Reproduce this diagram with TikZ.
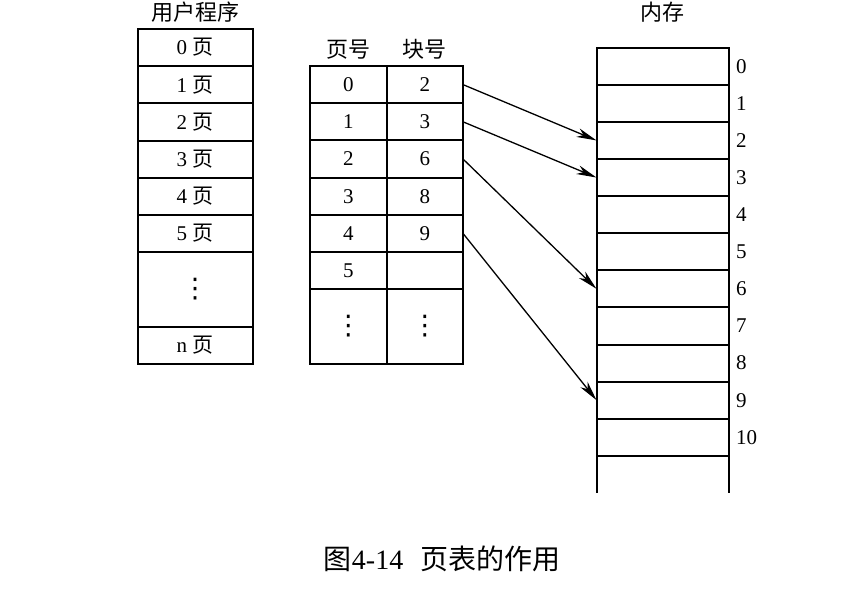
\documentclass[tikz,border=0pt]{standalone}
\usepackage{fontspec}
\setmainfont{Liberation Serif}
\newfontfamily\cjk{Noto Sans CJK SC}
\newfontfamily\symfont{DejaVu Sans}
\usetikzlibrary{positioning, arrows.meta}
\newcommand{\zh}[1]{{\cjk #1}}
\newcommand{\vdts}{{\fontsize{27}{27}\selectfont\symfont ⋮}}

\begin{document}
\begin{tikzpicture}[
    x=1pt, y=-1pt,
    cell/.style={rectangle, draw, line width=2pt, inner sep=0pt, outer sep=0pt,
        minimum height=37.2pt, font=\fontsize{21}{25}\selectfont},
    prog/.style={cell, minimum width=115pt},
    tab/.style={cell, minimum width=76.5pt},
    mem/.style={cell, minimum width=132.5pt, minimum height=37.1pt},
    head/.style={inner sep=0pt, font=\fontsize{22}{26}\selectfont\cjk},
    arrow/.style={-{Stealth[length=20pt, width=9pt, inset=6pt]}, line width=1.3pt},
    every label/.style={font=\fontsize{21}{25}\selectfont, inner sep=0pt},
    label distance=7pt,
    node distance=0pt
]
\useasboundingbox (0,0) rectangle (866,589);

% 用户程序
\node[prog, anchor=north west] (u0) at (137.5,29) {0 \zh{页}};
\node[prog, below=of u0] (u1) {1 \zh{页}};
\node[prog, below=of u1] (u2) {2 \zh{页}};
\node[prog, below=of u2] (u3) {3 \zh{页}};
\node[prog, below=of u3] (u4) {4 \zh{页}};
\node[prog, below=of u4] (u5) {5 \zh{页}};
\node[prog, below=of u5, minimum height=74.4pt] (udots) {\vdts};
\node[prog, below=of udots] (un) {n \zh{页}};
\node[head, above=6pt of u0] (uhead) {用户程序};

% 页表
\node[tab, anchor=north west] (p0) at (310,66) {0};
\node[tab, right=of p0] (b0) {2};
\node[tab, below=of p0] (p1) {1};
\node[tab, right=of p1] (b1) {3};
\node[tab, below=of p1] (p2) {2};
\node[tab, right=of p2] (b2) {6};
\node[tab, below=of p2] (p3) {3};
\node[tab, right=of p3] (b3) {8};
\node[tab, below=of p3] (p4) {4};
\node[tab, right=of p4] (b4) {9};
\node[tab, below=of p4] (p5) {5};
\node[tab, right=of p5] (b5) {};
\node[tab, below=of p5, minimum height=74.4pt] (pdots) {\vdts};
\node[tab, right=of pdots, minimum height=74.4pt] (bdots) {\vdts};
\node[head, above=6pt of p0] (phead) {页号};
\node[head, above=6pt of b0] (bhead) {块号};

% 内存
\node[mem, anchor=north west, label=right:0] (m0) at (596.5,47.7) {};
\node[mem, below=of m0, label=right:1] (m1) {};
\node[mem, below=of m1, label=right:2] (m2) {};
\node[mem, below=of m2, label=right:3] (m3) {};
\node[mem, below=of m3, label=right:4] (m4) {};
\node[mem, below=of m4, label=right:5] (m5) {};
\node[mem, below=of m5, label=right:6] (m6) {};
\node[mem, below=of m6, label=right:7] (m7) {};
\node[mem, below=of m7, label=right:8] (m8) {};
\node[mem, below=of m8, label=right:9] (m9) {};
\node[mem, below=of m9, label=right:10] (m10) {};
\coordinate[below=37.1pt of m10.south west] (mbl);
\coordinate[below=37.1pt of m10.south east] (mbr);
\draw[line width=2pt] (m10.south west) -- (mbl);
\draw[line width=2pt] (m10.south east) -- (mbr);
\node[head, above=25pt of m0] (mhead) {内存};

% 绘制箭头
\draw[arrow] (b0.east) -- (m2.west);
\draw[arrow] (b1.east) -- (m3.west);
\draw[arrow] (b2.east) -- (m6.west);
\draw[arrow] (b4.east) -- (m9.west);

% 图题
\node[inner sep=0pt, font=\fontsize{28}{32}\selectfont] (caption) at (442,559)
    {\zh{图}4-14\hspace{0.6em}\zh{页表的作用}};

\end{tikzpicture}
\end{document}
